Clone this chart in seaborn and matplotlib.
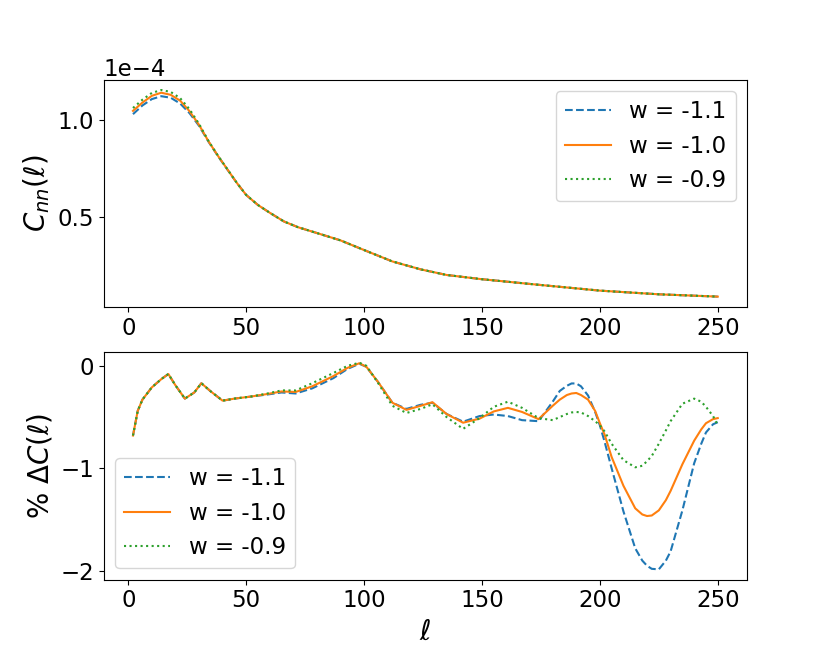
import seaborn as sns
import matplotlib.pyplot as plt
import numpy as np

# top panel: C_nn(ell), values in units of 1e-4
ell_top = [2, 6, 10, 14, 18, 22, 26, 30, 34, 38, 42, 46, 50, 55, 60, 66, 72, 80, 90, 100, 112, 124, 135, 150,
           175, 200, 225, 250]
cnn_m11 = [1.030, 1.075, 1.108, 1.123, 1.115, 1.085, 1.035, 0.970, 0.888, 0.814, 0.744, 0.675, 0.612, 0.560,
           0.520, 0.475, 0.445, 0.415, 0.377, 0.327, 0.268, 0.227, 0.198, 0.176, 0.146, 0.117, 0.098, 0.086]
cnn_m10 = [1.047, 1.090, 1.125, 1.141, 1.130, 1.100, 1.045, 0.975, 0.890, 0.815, 0.745, 0.675, 0.612, 0.560,
           0.520, 0.475, 0.445, 0.415, 0.377, 0.327, 0.268, 0.227, 0.198, 0.176, 0.146, 0.117, 0.098, 0.086]
cnn_m09 = [1.062, 1.105, 1.140, 1.155, 1.145, 1.113, 1.055, 0.980, 0.892, 0.816, 0.746, 0.675, 0.612, 0.560,
           0.520, 0.475, 0.445, 0.415, 0.377, 0.327, 0.268, 0.227, 0.198, 0.176, 0.146, 0.117, 0.098, 0.086]

# bottom panel: % Delta C(ell)
ell_bot = [2, 4, 6, 10, 14, 17, 20, 24, 28, 31, 35, 40, 45, 52, 59, 65, 71, 78, 87, 93, 98, 101, 106, 112, 118,
           124, 129, 135, 142, 149, 155, 161, 167, 174, 180, 183, 186, 188, 190, 192, 195, 198, 200, 202, 205, 210,
           215, 218, 220, 222, 225, 228, 230, 235, 240, 243, 245, 248, 250]
dc_m11 = [-0.68, -0.44, -0.33, -0.21, -0.13, -0.08, -0.19, -0.32, -0.26, -0.17, -0.25, -0.34, -0.32, -0.30, -0.28,
          -0.26, -0.27, -0.22, -0.12, -0.03, 0.02, -0.01, -0.16, -0.36, -0.42, -0.38, -0.36, -0.47, -0.545, -0.49,
          -0.475, -0.49, -0.53, -0.54, -0.35, -0.245, -0.195, -0.172, -0.172, -0.20, -0.29, -0.45, -0.58, -0.74,
          -1.00, -1.42, -1.78, -1.90, -1.95, -1.98, -1.985, -1.90, -1.81, -1.41, -0.95, -0.76, -0.65, -0.57, -0.55]
dc_m10 = [-0.68, -0.44, -0.33, -0.21, -0.13, -0.08, -0.19, -0.32, -0.26, -0.17, -0.25, -0.34, -0.32, -0.30, -0.275,
          -0.25, -0.255, -0.20, -0.10, -0.02, 0.025, -0.01, -0.16, -0.36, -0.43, -0.39, -0.355, -0.47, -0.555, -0.515,
          -0.445, -0.41, -0.45, -0.52, -0.39, -0.33, -0.285, -0.27, -0.265, -0.285, -0.33, -0.44, -0.56, -0.67,
          -0.89, -1.17, -1.39, -1.45, -1.465, -1.46, -1.41, -1.31, -1.22, -0.96, -0.73, -0.62, -0.56, -0.52, -0.51]
dc_m09 = [-0.68, -0.44, -0.33, -0.21, -0.13, -0.08, -0.19, -0.32, -0.26, -0.17, -0.25, -0.34, -0.32, -0.30, -0.27,
          -0.24, -0.24, -0.17, -0.07, 0.0, 0.03, 0.0, -0.17, -0.39, -0.46, -0.42, -0.375, -0.50, -0.615, -0.51,
          -0.40, -0.35, -0.41, -0.51, -0.53, -0.50, -0.47, -0.455, -0.45, -0.455, -0.49, -0.54, -0.58, -0.64,
          -0.76, -0.92, -0.99, -0.975, -0.93, -0.88, -0.76, -0.63, -0.54, -0.37, -0.32, -0.35, -0.40, -0.49, -0.58]

labels = ["w = -1.1", "w = -1.0", "w = -0.9"]
styles = ["--", "-", ":"]
colors = ["#1f77b4", "#ff7f0e", "#2ca02c"]

plt.rcParams["font.size"] = 16.5

fig, (ax1, ax2) = plt.subplots(2, 1, figsize=(8.3, 6.64), dpi=100)
fig.subplots_adjust(left=0.125, right=0.9, top=0.88, bottom=0.127, hspace=0.2)

for vals, lab, ls, c in zip([cnn_m11, cnn_m10, cnn_m09], labels, styles, colors):
    sns.lineplot(x=ell_top, y=np.array(vals) * 1e-4, ax=ax1, label=lab, color=c, linestyle=ls, linewidth=1.5)
ax1.set_yticks([0.5e-4, 1.0e-4])
ax1.ticklabel_format(style="sci", axis="y", scilimits=(0, 0))
ax1.set_ylabel(r"$C_{nn}(\ell)$", fontsize=20)
ax1.set_xticks([0, 50, 100, 150, 200, 250])
ax1.legend(loc="upper right", fontsize=16.5)
ax1.tick_params(labelsize=16.5)
ax1.yaxis.get_offset_text().set_fontsize(16.5)

for vals, lab, ls, c in zip([dc_m11, dc_m10, dc_m09], labels, styles, colors):
    sns.lineplot(x=ell_bot, y=vals, ax=ax2, label=lab, color=c, linestyle=ls, linewidth=1.5)
ax2.set_yticks([-2, -1, 0])
ax2.set_xticks([0, 50, 100, 150, 200, 250])
ax2.set_ylabel(r"% $\Delta C(\ell)$", fontsize=20)
ax2.set_xlabel(r"$\ell$", fontsize=20)
ax2.legend(loc="lower left", fontsize=16.5)
ax2.tick_params(labelsize=16.5)

plt.savefig("out.png", dpi=100)
plt.close()
